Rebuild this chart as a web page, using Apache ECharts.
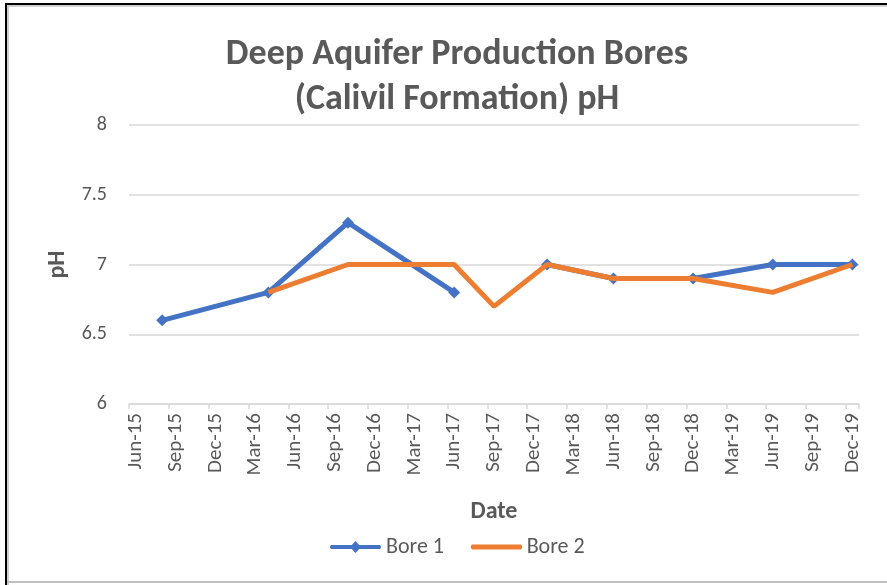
<!DOCTYPE html>
<html>
<head>
<meta charset="utf-8">
<script src="https://cdn.jsdelivr.net/npm/echarts@6/dist/echarts.min.js"></script>
<style>
html,body{margin:0;padding:0;background:#fff;}
#chart{width:887px;height:585px;}
</style>
</head>
<body>
<div id="chart"></div>
<script>
// Axis months (category ticks)
const months = [
  "Jun-15","Jul-15","Aug-15","Sep-15","Oct-15","Nov-15","Dec-15",
  "Jan-16","Feb-16","Mar-16","Apr-16","May-16","Jun-16","Jul-16","Aug-16","Sep-16","Oct-16","Nov-16","Dec-16",
  "Jan-17","Feb-17","Mar-17","Apr-17","May-17","Jun-17","Jul-17","Aug-17","Sep-17","Oct-17","Nov-17","Dec-17",
  "Jan-18","Feb-18","Mar-18","Apr-18","May-18","Jun-18","Jul-18","Aug-18","Sep-18","Oct-18","Nov-18","Dec-18",
  "Jan-19","Feb-19","Mar-19","Apr-19","May-19","Jun-19","Jul-19","Aug-19","Sep-19","Oct-19","Nov-19","Dec-19"
];
// Sampling dates
const dates = ["Aug-15","Apr-16","Oct-16","Jun-17","Sep-17","Jan-18","Jun-18","Dec-18","Jun-19","Dec-19"];
const bore1 = [6.6, 6.8, 7.3, 6.8, null, 7.0, 6.9, 6.9, 7.0, 7.0];
const bore2 = [null, 6.8, 7.0, 7.0, 6.7, 7.0, 6.9, 6.9, 6.8, 7.0];

const FONT = "Carlito, Calibri, Lato, 'Open Sans', sans-serif";
const GREY = "#595959";

function pairs(vals) {
  return dates.map((d, i) => [d, vals[i] == null ? '-' : vals[i]]);
}

const chart = echarts.init(document.getElementById('chart'), null, {renderer: 'canvas'});
chart.setOption({
  backgroundColor: '#fff',
  animation: false,
  textStyle: {fontFamily: FONT},
  title: {
    text: 'Deep Aquifer Production Bores\n(Calivil Formation) pH',
    left: 452, top: 27, textAlign: 'center',
    textStyle: {fontFamily: FONT, fontSize: 36, fontWeight: 'bold', color: GREY, lineHeight: 45}
  },
  grid: {left: 129, right: 28, top: 125, bottom: 181, containLabel: false},
  legend: {
    top: 531, left: 325,
    itemWidth: 53, itemHeight: 12, itemGap: 26,
    textStyle: {fontFamily: FONT, fontSize: 22, color: GREY, padding: [0,0,0,-1]},
    data: [
      {name: 'Bore 1', icon: 'path://M2,4 L51,4 Q53,6 51,8 L2,8 Q0,6 2,4 Z M26.5,0 L32,6 L26.5,12 L21,6 Z'},
      {name: 'Bore 2', icon: 'path://M2,3.5 L51,3.5 Q53.5,6 51,8.5 L2,8.5 Q-0.5,6 2,3.5 Z M0,0 L0.01,0 M0,12 L0.01,12'}
    ]
  },
  xAxis: {
    type: 'category',
    data: months,
    boundaryGap: true,
    name: 'Date', nameLocation: 'middle', nameGap: 96,
    nameTextStyle: {fontFamily: FONT, fontSize: 24, fontWeight: 'bold', color: GREY},
    axisLine: {lineStyle: {color: '#D9D9D9', width: 1.5}},
    axisTick: {show: true, interval: 2, alignWithLabel: false, length: 5, lineStyle: {color: '#D9D9D9', width: 1.5}},
    axisLabel: {interval: 2, rotate: 90, margin: 9, fontFamily: FONT, fontSize: 21, color: GREY},
    splitLine: {show: false}
  },
  yAxis: {
    type: 'value', min: 6, max: 8, interval: 0.5,
    name: 'pH', nameLocation: 'middle', nameGap: 59, nameRotate: 90,
    nameTextStyle: {fontFamily: FONT, fontSize: 24, fontWeight: 'bold', color: GREY},
    axisLine: {show: false}, axisTick: {show: false},
    axisLabel: {margin: 22, fontFamily: FONT, fontSize: 20, color: GREY},
    splitLine: {lineStyle: {color: '#D9D9D9', width: 1.5}}
  },
  series: [
    {
      name: 'Bore 1', type: 'line', data: pairs(bore1), connectNulls: false,
      symbol: 'diamond', symbolSize: 12, showSymbol: true, showAllSymbol: true,
      lineStyle: {color: '#4472C4', width: 5},
      itemStyle: {color: '#4472C4'}, z: 2
    },
    {
      name: 'Bore 2', type: 'line', data: pairs(bore2), connectNulls: false,
      symbol: 'none', showSymbol: false,
      lineStyle: {color: '#ED7D31', width: 5},
      itemStyle: {color: '#ED7D31'}, z: 3
    }
  ],
  graphic: [
    {type: 'rect', shape: {x: 5, y: 3, width: 882, height: 2}, style: {fill: '#000'}, silent: true},
    {type: 'rect', shape: {x: 5, y: 3, width: 2, height: 582}, style: {fill: '#000'}, silent: true},
    {type: 'rect', shape: {x: 7, y: 5, width: 880, height: 2}, style: {fill: '#D0D0D0'}, silent: true},
    {type: 'rect', shape: {x: 7, y: 5, width: 2, height: 580}, style: {fill: '#D0D0D0'}, silent: true},
    {type: 'rect', shape: {x: 7, y: 581, width: 880, height: 2}, style: {fill: '#BFBFBF'}, silent: true}
  ]
});
</script>
</body>
</html>
